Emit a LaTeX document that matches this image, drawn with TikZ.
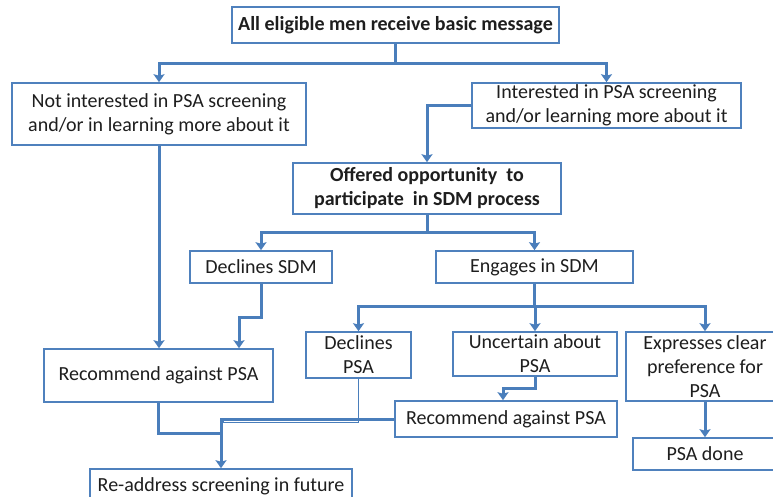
\documentclass[tikz,border=0pt]{standalone}
\usepackage{fontspec}
\setmainfont{Carlito}
\usetikzlibrary{arrows.meta,calc}
\definecolor{conn}{RGB}{74,126,187}
\definecolor{boxc}{RGB}{79,129,189}
\definecolor{txt}{RGB}{30,30,30}
\tikzset{
  box/.style={draw=boxc, line width=1.6pt, fill=white, inner sep=0pt, align=center,
    text=txt, font=\fontsize{20}{24}\selectfont},
  boldbox/.style={box, font=\fontsize{20}{24}\selectfont\bfseries},
  link/.style={draw=conn, line width=3pt},
  arr/.style={link, -{Stealth[width=11pt,length=8pt,inset=1.5pt]}},
  thinlink/.style={draw=conn, line width=1pt}
}
\begin{document}
\begin{tikzpicture}[x=1pt,y=-1pt]
\useasboundingbox (0,0) rectangle (773,497);
\fill[white] (0,0) rectangle (773,497);
\node[boldbox, minimum width=327pt, minimum height=36pt] (top) at (395.5,25) {All eligible men receive basic message};
\node[box, minimum width=294pt, minimum height=62pt] (notint) at (159,114) {Not interested in PSA screening\\and/or in learning more about it};
\node[box, minimum width=269pt, minimum height=45pt] (int) at (606.5,105.5) {Interested in PSA screening\\and/or learning more about it};
\node[boldbox, minimum width=268pt, minimum height=51pt] (offered) at (427,188.5) {Offered opportunity\ \ to\\participate\ \ in SDM process};
\node[box, minimum width=142pt, minimum height=32pt] (decsdm) at (261,267) {Declines SDM};
\node[box, minimum width=197pt, minimum height=32pt] (engsdm) at (534.5,267) {Engages in SDM};
\node[box, minimum width=229pt, minimum height=53pt] (rec1) at (158.5,375.5) {Recommend against PSA};
\node[box, minimum width=105pt, minimum height=46pt] (decpsa) at (358.5,355) {Declines\\PSA};
\node[box, minimum width=164pt, minimum height=44pt] (unc) at (535,354) {Uncertain about\\PSA};
\node[box, minimum width=158pt, minimum height=69pt] (expr) at (705,366.5) {Expresses clear\\preference for\\PSA};
\node[box, minimum width=144pt, minimum height=32pt] (psadone) at (705,454) {PSA done};
\node[box, minimum width=222pt, minimum height=36pt] (rec2) at (506,419) {Recommend against PSA};
\node[box, minimum width=262pt, minimum height=34pt] (readdr) at (221,486) {Re-address screening in future};

\draw[arr] (top.south) -- ++(0,20) -| (notint.north);
\draw[arr] (top.south) -- ++(0,20) -| (int.north);
\draw[arr] (int.west) -| (offered.north);
\draw[arr] (offered.south) -- ++(0,18) -| (decsdm.north);
\draw[arr] (offered.south) -- ++(0,18) -| (engsdm.north);
\draw[arr] (notint.south) -- (notint.south |- rec1.north);
\draw[arr] (decsdm.south) -- ++(0,34) -| ([xshift=80.5pt]rec1.north);
\draw[arr] (engsdm.south) -- ++(0,23) -| (decpsa.north);
\draw[arr] (engsdm.south) -- ++(0,23) -| (unc.north);
\draw[arr] (engsdm.south) -- ++(0,23) -| (expr.north);
\draw[arr] (unc.south) -- ++(0,12) -| ([xshift=-3pt]rec2.north);
\draw[arr] (expr.south) -- (psadone.north);
\draw[thinlink] (decpsa.south) |- ([xshift=2pt,yshift=46pt]readdr.north) -- ([xshift=2pt,yshift=50pt]readdr.north);
\draw[link] (rec1.south) |- ([yshift=35pt]readdr.north);
\draw[arr] (rec2.west) -| (readdr.north);
\end{tikzpicture}
\end{document}
